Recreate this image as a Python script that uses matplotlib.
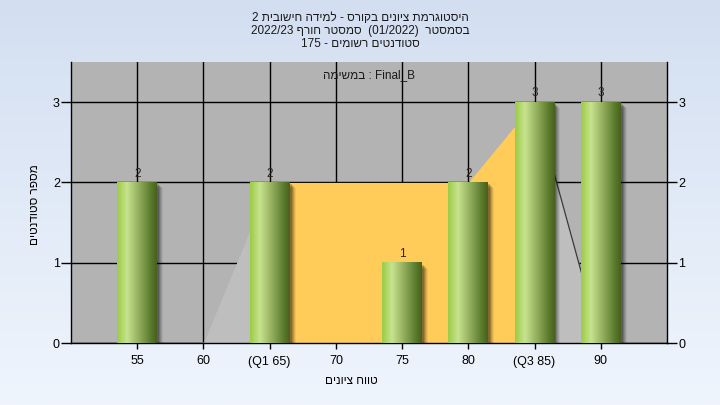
import numpy as np
import matplotlib
matplotlib.use('Agg')
import matplotlib.pyplot as plt
import matplotlib.transforms as mtransforms
from matplotlib.patches import Rectangle
from matplotlib.colors import LinearSegmentedColormap

plt.rcParams['font.family'] = ['Liberation Sans', 'DejaVu Sans']

# data
tick_labels = ['55', '60', '(Q1 65)', '70', '75', '80', '(Q3 85)', '90']
counts = [2, 0, 2, 0, 1, 2, 3, 3]
area_vals = [0, 0, 2, 2, 2, 2, 3, 0]
q1_idx, q3_idx = 2, 6

title_lines = ['היסטוגרמת ציונים בקורס - למידה חישובית 2',
               'בסמסטר  (01/2022)  סמסטר חורף 2022/23',
               'סטודנטים רשומים - 175']
task_word = 'במשימה'
task_name = 'Final_B'
xlabel = 'טווח ציונים'
ylabel = 'מספר סטודנטים'


def heb(s):
    # matplotlib has no bidi: put words in visual (right-to-left) order
    words = s.split(' ')
    out = [w[::-1] if any('\u0590' <= ch <= '\u05FF' for ch in w) else w
           for w in reversed(words)]
    return ' '.join(out)


fig = plt.figure(figsize=(7.2, 4.05), dpi=100)

# background gradient
bg = fig.add_axes([0, 0, 1, 1], zorder=-10)
bg_cmap = LinearSegmentedColormap.from_list('bg', ['#EFF5FD', '#D3DFF1'])
bg.imshow(np.linspace(0, 1, 200)[:, None], cmap=bg_cmap, aspect='auto',
          extent=[0, 1, 0, 1], origin='lower')
bg.axis('off')

ax = fig.add_axes([71 / 720, 62 / 405, 596 / 720, 281 / 405])
ax.set_facecolor('#B3B3B3')
x = np.arange(len(tick_labels))

ax.grid(True, color='black', lw=1)
ax.set_axisbelow(True)

# area series: grey outside the quartile range, orange inside
ax.fill_between(x[:q1_idx + 1], area_vals[:q1_idx + 1], color='#BEBEBE', lw=0, zorder=1)
ax.fill_between(x[q1_idx:q3_idx + 1], area_vals[q1_idx:q3_idx + 1], color='#FFCC5A', lw=0, zorder=1)
ax.fill_between(x[q3_idx:], area_vals[q3_idx:], color='#BEBEBE', lw=0, zorder=1)
ax.plot(x[q3_idx:], area_vals[q3_idx:], color='#3A3A3A', lw=0.9, zorder=1.5)
ax.plot(x[:q1_idx], area_vals[:q1_idx], color='#8A8A8A', lw=1.2, zorder=1.5)

# cylinder-like bars
bar_cmap = LinearSegmentedColormap.from_list(
    'bar', [(0, '#9ACB45'), (0.25, '#C8E38E'), (0.55, '#92AE5E'),
            (0.85, '#5A7A2B'), (1, '#46601E')])
grad = np.linspace(0, 1, 256)[None, :]
w = 0.6
for xi, c in zip(x, counts):
    if c == 0:
        continue
    for k, a in zip([2, 3, 4, 5, 6], [0.18, 0.15, 0.12, 0.09, 0.06]):
        sh = mtransforms.offset_copy(ax.transData, fig=fig, x=k, y=-k, units='dots')
        ax.add_patch(Rectangle((xi - w / 2, 0), w, c, facecolor='black',
                               alpha=a, lw=0, transform=sh, zorder=2))
    ax.imshow(grad, cmap=bar_cmap, aspect='auto', zorder=3,
              extent=[xi - w / 2, xi + w / 2, 0, c], interpolation='bilinear')
    ax.annotate(str(c), (xi, c), xytext=(0, 2), textcoords='offset points',
                ha='center', va='bottom', fontsize=8.5, color='#2E2418', zorder=5)

ax.set_xlim(-1, 8)
ax.set_ylim(0, 3.5)
ax.set_xticks(x, tick_labels)
ax.set_yticks([0, 1, 2, 3])
ax.tick_params(axis='y', length=7, width=1, left=True, right=True,
               labelleft=True, labelright=True, labelsize=9, pad=1)
ax.tick_params(axis='x', length=4, width=1, labelsize=9, pad=5)
ax.spines['top'].set_visible(False)
for s in ['left', 'right', 'bottom']:
    ax.spines[s].set_color('black')
    ax.spines[s].set_linewidth(1)

ax.text(0.5, 0.955, task_word[::-1] + ' : ' + task_name, transform=ax.transAxes,
        ha='center', va='center', fontsize=8.5, color='#1A1A1A')

for i, line in enumerate(title_lines):
    fig.text(0.5, 1 - (18 + 13 * i) / 405, heb(line), ha='center', va='center',
             fontsize=8.5, color='#1A1A1A')

fig.text(351 / 720, 1 - 381 / 405, heb(xlabel), ha='center', va='center', fontsize=8.5)
fig.text(35 / 720, 1 - 205 / 405, heb(ylabel), ha='center', va='center',
         fontsize=8.5, rotation=90)

fig.savefig('out.png', dpi=100)
